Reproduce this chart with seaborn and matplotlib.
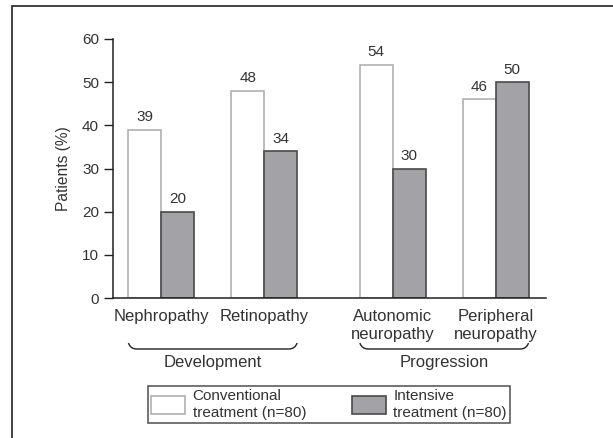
import numpy as np
import pandas as pd
import matplotlib
matplotlib.use("Agg")
import matplotlib.pyplot as plt
import matplotlib.transforms as mtransforms
from matplotlib.path import Path
from matplotlib.patches import PathPatch, Rectangle
import seaborn as sns

# data
complications = ["Nephropathy", "Retinopathy", "Autonomic\nneuropathy", "Peripheral\nneuropathy"]
conventional = [39, 48, 54, 46]
intensive = [20, 34, 30, 50]
treatments = ["Conventional\ntreatment (n=80)", "Intensive\ntreatment (n=80)"]
groups = ["Development", "Progression"]

# layout: x position of each complication (extra gap between the two groups)
positions = [0, 1, 2.25, 3.25]

df = pd.DataFrame({
    "pos": positions * 2,
    "value": conventional + intensive,
    "treatment": [treatments[0]] * 4 + [treatments[1]] * 4,
})

sns.set_style("white")
plt.rcParams["font.family"] = ["Liberation Sans", "DejaVu Sans"]
text_col = "#333333"

fig = plt.figure(figsize=(6.13, 4.38), dpi=100)
ax = fig.add_axes([113 / 613, 1 - 298 / 438, (546 - 113) / 613, (298 - 39) / 438])

sns.barplot(data=df, x="pos", y="value", hue="treatment", hue_order=treatments,
            native_scale=True, width=0.64, palette=["white", "#a3a3a7"],
            saturation=1, linewidth=1.2, legend=False, ax=ax)

edge_cols = ["#b0b0b0", "#4a4a4a"]
for cont, ec in zip(ax.containers, edge_cols):
    for p in cont.patches:
        p.set_edgecolor(ec)
    ax.bar_label(cont, padding=4, fontsize=11, color=text_col)

ax.set_xlim(-0.47, 3.74)
ax.set_ylim(0, 60)
ax.set_yticks(range(0, 61, 10))
ax.set_xticks(positions)
ax.set_xticklabels(complications, fontsize=12, color=text_col)
ax.tick_params(axis="x", length=0, pad=8)
ax.tick_params(axis="y", length=6.5, width=1, color="#222222", direction="out",
               left=True, labelsize=11, labelcolor=text_col, pad=3.5)
ax.set_xlabel("")
ax.set_ylabel("Patients (%)", fontsize=11.2, color=text_col, labelpad=8)
for side in ["top", "right"]:
    ax.spines[side].set_visible(False)
for side in ["left", "bottom"]:
    ax.spines[side].set_color("#222222")
    ax.spines[side].set_linewidth(1.1)

# group brackets below the labels
trans = mtransforms.blended_transform_factory(ax.transData, fig.transFigure)
y_line = 1 - 349 / 438
y_end = 1 - 343 / 438
spans = [(positions[0] - 0.32, positions[1] + 0.32), (positions[2] - 0.32, positions[3] + 0.32)]
for (x0, x1), name in zip(spans, groups):
    verts = [(x0, y_end), (x0 + 0.02, y_line), (x0 + 0.08, y_line),
             (x1 - 0.08, y_line),
             (x1 - 0.02, y_line), (x1, y_end)]
    codes = [Path.MOVETO, Path.CURVE3, Path.CURVE3, Path.LINETO, Path.CURVE3, Path.CURVE3]
    ax.add_patch(PathPatch(Path(verts, codes), transform=trans, fill=False,
                           edgecolor="#222222", linewidth=1, clip_on=False))
    ax.text((x0 + x1) / 2, 1 - 363 / 438, name, transform=trans, ha="center",
            va="center", fontsize=12, color=text_col)

# legend
leg = fig.legend(ax.containers, treatments, loc="center", ncol=2,
                 bbox_to_anchor=(329 / 613, 1 - 404.5 / 438),
                 fontsize=11, frameon=True, fancybox=False, shadow=False,
                 handlelength=2.2, handleheight=1.45, handletextpad=0.5,
                 columnspacing=3.0, borderpad=0.25, labelcolor=text_col)
leg.get_frame().set_edgecolor("#222222")
leg.get_frame().set_linewidth(1.1)

# outer frame of the panel
fig.add_artist(Rectangle((12 / 613, -0.1), 1.2, 1.1 - 6 / 438, transform=fig.transFigure,
                         fill=False, edgecolor="#222222", linewidth=1.2, clip_on=False))

fig.savefig("out.png", dpi=100)
